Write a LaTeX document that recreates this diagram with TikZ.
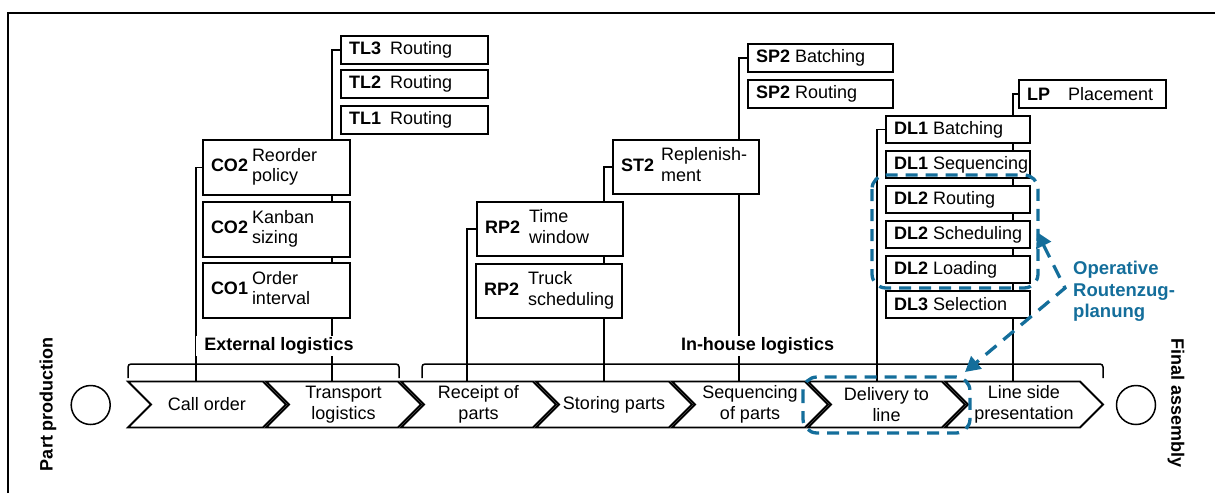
\documentclass[tikz,border=0pt]{standalone}
\usepackage{fontspec}
\setmainfont{Liberation Sans}
\usetikzlibrary{arrows.meta,backgrounds}
\definecolor{opblue}{RGB}{20,110,155}
\newcommand{\fs}{\fontsize{18}{20.5}\selectfont}
\newcommand{\bl}[4]{\makebox[#1][l]{\makebox[#2][l]{\textbf{#3}}#4}}
\newcommand{\twol}[2]{\begin{tabular}{@{}l@{}}#1\\#2\end{tabular}}
\begin{document}
\begin{tikzpicture}[x=1pt,y=-1pt,font=\fs,
  box/.style={draw, line width=1.8pt, fill=white, anchor=north west, inner xsep=8pt, inner ysep=0pt, outer sep=0pt},
  conn/.style={line width=1.5pt},
  brk/.style={line width=1.5pt, rounded corners=3pt},
  chev/.style={draw, line width=1.8pt, fill=white, line join=miter},
  ctext/.style={align=center, inner sep=0pt},
  grp/.style={fill=white, font=\fs\bfseries, inner xsep=8pt, inner ysep=2pt},
  opdash/.style={draw=opblue, line width=3.3pt, dash pattern=on 12pt off 8pt, rounded corners=14pt},
  oparrow/.style={draw=opblue, line width=3.3pt, dash pattern=on 14pt off 9pt, {Triangle[length=15pt,width=16pt]}-{Triangle[length=15pt,width=16pt]}}
]
\useasboundingbox (0,0) rectangle (1215,493);
% frame
\draw[line width=1.5pt] (8,493) -- (8,13) -- (1215,13);

% brackets
\draw[brk] (128,378) -- (128,364) -- (399,364) -- (399,378);
\draw[brk] (422,378) -- (422,364) -- (1103,364) -- (1103,378);

% end points of connectors on the process chain
\coordinate (coEnd) at (196,381.5);
\coordinate (tlEnd) at (332,381.5);
\coordinate (rpEnd) at (467,381.5);
\coordinate (stEnd) at (604,381.5);
\coordinate (spEnd) at (739,381.5);
\coordinate (dlEnd) at (877,381.5);
\coordinate (lpEnd) at (1013,381.5);

% boxes
\node[box, minimum height=28] (tl3) at (341,36) {\bl{131pt}{41pt}{TL3}{Routing}};
\node[box, minimum height=28] (tl2) at (341,70) {\bl{131pt}{41pt}{TL2}{Routing}};
\node[box, minimum height=28] (tl1) at (341,106) {\bl{131pt}{41pt}{TL1}{Routing}};

\node[box, minimum height=28] (sp2b) at (748,44) {\bl{129pt}{39pt}{SP2}{Batching}};
\node[box, minimum height=28] (sp2r) at (748,80) {\bl{129pt}{39pt}{SP2}{Routing}};

\node[box, minimum height=28] (lp) at (1019,80) {\bl{131pt}{41pt}{LP}{Placement}};

\node[box, minimum height=27] (dl1b) at (886,116) {\bl{128pt}{39pt}{DL1}{Batching}};
\node[box, minimum height=27] (dl1s) at (886,151) {\bl{128pt}{39pt}{DL1}{Sequencing}};
\node[box, minimum height=27] (dl2r) at (886,186) {\bl{128pt}{39pt}{DL2}{Routing}};
\node[box, minimum height=27] (dl2s) at (886,221) {\bl{128pt}{39pt}{DL2}{Scheduling}};
\node[box, minimum height=27] (dl2l) at (886,256) {\bl{128pt}{39pt}{DL2}{Loading}};
\node[box, minimum height=27] (dl3s) at (886,291) {\bl{128pt}{39pt}{DL3}{Selection}};

\node[box, minimum height=55] (co2r) at (203,140) {\bl{131pt}{41pt}{CO2}{\twol{Reorder}{policy}}};
\node[box, minimum height=55] (co2k) at (203,202) {\bl{131pt}{41pt}{CO2}{\twol{Kanban}{sizing}}};
\node[box, minimum height=55] (co1) at (203,263) {\bl{131pt}{41pt}{CO1}{\twol{Order}{interval}}};

\node[box, minimum height=54] (st2) at (613,140) {\bl{130pt}{40pt}{ST2}{\twol{Replenish-}{ment}}};
\node[box, minimum height=54] (rp2t) at (477,202) {\bl{130pt}{44pt}{RP2}{\twol{Time}{window}}};
\node[box, minimum height=54] (rp2k) at (476,264) {\bl{130pt}{44pt}{RP2}{\twol{Truck}{scheduling}}};

% connectors, behind the boxes
\begin{pgfonlayer}{background}
\draw[conn] (tl3.west) -| (tlEnd);
\draw[conn] (sp2b.west) -| (spEnd);
\draw[conn] (lp.west) -| (lpEnd);
\draw[conn] (dl1b.west) -| (dlEnd);
\draw[conn] (co2r.west) -| (coEnd);
\draw[conn] (st2.west) -| (stEnd);
\draw[conn] (rp2t.west) -| (rpEnd);
\end{pgfonlayer}

% group labels
\node[grp] (ext) at (279,346) {External logistics};
\node[grp] (inh) at (757.5,346) {In-house logistics};

% process chain
\foreach \a/\b in {128/263, 266/398, 401/533, 536/669, 672/805, 808/942, 945/1080}
  \draw[chev] (\a,381.5) -- (\b,381.5) -- (\b+23,404.5) -- (\b,427.5) -- (\a,427.5) -- (\a+23,404.5) -- cycle;
\node[ctext] (c1) at (207,404.5) {Call order};
\node[ctext] (c2) at (343.5,404.5) {Transport\\logistics};
\node[ctext] (c3) at (478.5,404.5) {Receipt of\\parts};
\node[ctext] (c4) at (614,404.5) {Storing parts};
\node[ctext] (c5) at (750,404.5) {Sequencing\\of parts};
\node[ctext] (c6) at (886.5,404.5) {Delivery to\\line};
\node[ctext] (c7) at (1024,404.5) {Line side\\presentation};

% start and end events
\node[circle, draw, line width=1.5pt, minimum size=39pt, inner sep=0pt] (pp) at (90.7,405) {};
\node[circle, draw, line width=1.5pt, minimum size=39pt, inner sep=0pt] (fa) at (1136,405) {};
\node[rotate=90, font=\fs\bfseries] (pprod) at (48,404) {Part production};
\node[rotate=-90, font=\fs\bfseries] (fass) at (1176,403) {Final assembly};

% operative planning highlight
\draw[opdash] (872,175) rectangle (1038,288);
\draw[opdash] (803,377) rectangle (970,433);
\coordinate (arrA) at (1037,232);
\coordinate (arrK) at (1065,288);
\coordinate (arrB) at (965,372);
\draw[oparrow] (arrA) -- (arrK) -- (arrB);
\node[font=\fontsize{18.5}{21.5}\selectfont\bfseries, text=opblue, align=left, anchor=west, inner sep=0pt] (op) at (1073,291.5) {Operative\\Routenzug-\\planung};
\end{tikzpicture}
\end{document}
